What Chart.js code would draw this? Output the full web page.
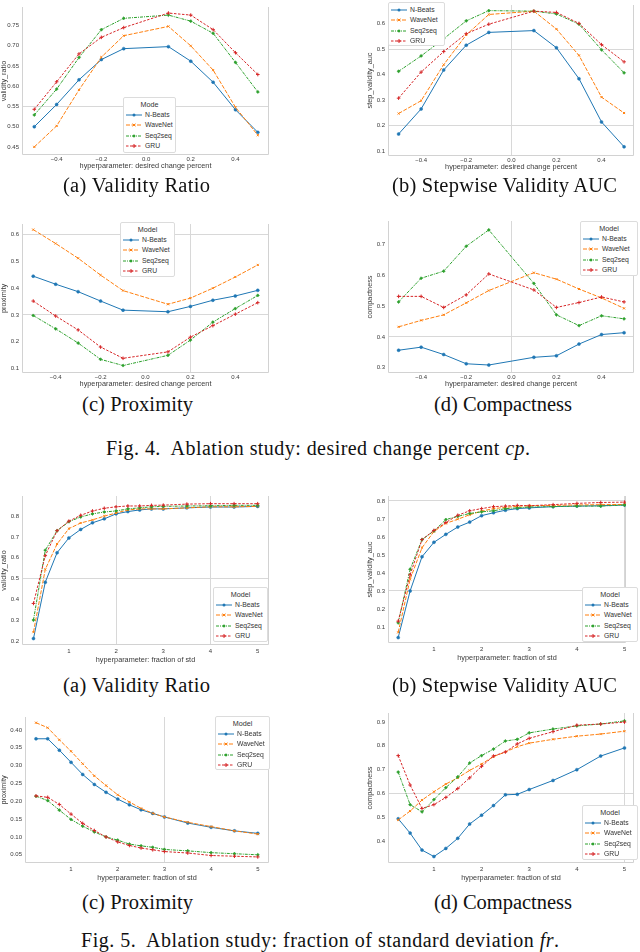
<!DOCTYPE html>
<html><head><meta charset="utf-8">
<script src="https://cdn.jsdelivr.net/npm/chart.js@4.4.1/dist/chart.umd.min.js"></script>
<style>
body{margin:0;width:640px;height:952px;background:#fff;position:relative;overflow:hidden;font-family:"Liberation Sans",Arial,sans-serif}
.wrap{position:absolute}
.cap{position:absolute;font-family:"Liberation Serif","Times New Roman",serif;font-size:20.5px;white-space:nowrap;color:#111;line-height:1}
.leg{position:absolute;background:#fff;border:1px solid #dcdcdc;border-radius:2px;font-size:6.8px;color:#333;box-sizing:border-box}
.leg .t{text-align:center;height:11px;line-height:11px;font-size:7.2px}
.leg .r{height:10.3px;line-height:10.3px;white-space:nowrap;display:flex;align-items:center}
.leg svg{margin:0 3px 0 2px;flex:none}
</style></head><body>
<script>
// ---------- data ----------
const models = ['N-Beats','WaveNet','Seq2seq','GRU'];
const cpValues = [-0.5,-0.4,-0.3,-0.2,-0.1,0.1,0.2,0.3,0.4,0.5];
const frValues = [0.25,0.5,0.75,1,1.25,1.5,1.75,2,2.25,2.5,2.75,3,3.5,4,4.5,5];
const cpTicks = [-0.4,-0.2,0,0.2,0.4];
const frTicks = [1,2,3,4,5];

// Fig 4 (a) validity ratio
const cpValidityNBeats  = [0.500,0.555,0.616,0.666,0.693,0.698,0.662,0.610,0.542,0.486];
const cpValidityWaveNet = [0.450,0.502,0.591,0.672,0.725,0.748,0.700,0.640,0.548,0.479];
const cpValiditySeq2seq = [0.529,0.593,0.671,0.740,0.768,0.776,0.761,0.731,0.659,0.586];
const cpValidityGRU     = [0.543,0.611,0.680,0.721,0.745,0.781,0.776,0.740,0.683,0.629];
const cpValidityTicks   = [0.45,0.50,0.55,0.60,0.65,0.70,0.75];
// Fig 4 (b) stepwise validity auc
const cpAucNBeats  = [0.168,0.266,0.418,0.515,0.565,0.572,0.505,0.384,0.215,0.118];
const cpAucWaveNet = [0.248,0.298,0.439,0.555,0.635,0.648,0.578,0.475,0.312,0.250];
const cpAucSeq2seq = [0.413,0.473,0.540,0.610,0.650,0.648,0.637,0.597,0.497,0.407];
const cpAucGRU     = [0.308,0.410,0.490,0.560,0.597,0.648,0.643,0.600,0.517,0.450];
const cpAucTicks   = [0.1,0.2,0.3,0.4,0.5,0.6];
// Fig 4 (c) proximity
const cpProxNBeats  = [0.445,0.415,0.387,0.352,0.318,0.312,0.332,0.355,0.371,0.392];
const cpProxWaveNet = [0.619,0.567,0.512,0.449,0.391,0.340,0.363,0.400,0.442,0.487];
const cpProxSeq2seq = [0.298,0.248,0.195,0.134,0.111,0.149,0.206,0.273,0.324,0.373];
const cpProxGRU     = [0.352,0.296,0.244,0.180,0.138,0.162,0.217,0.260,0.303,0.346];
const cpProxTicks   = [0.1,0.2,0.3,0.4,0.5,0.6];
// Fig 4 (d) compactness
const cpCompNBeats  = [0.357,0.367,0.343,0.313,0.309,0.334,0.339,0.377,0.408,0.414];
const cpCompWaveNet = [0.433,0.454,0.472,0.511,0.551,0.609,0.588,0.556,0.527,0.493];
const cpCompSeq2seq = [0.514,0.591,0.614,0.695,0.748,0.574,0.472,0.437,0.469,0.459];
const cpCompGRU     = [0.532,0.532,0.496,0.537,0.605,0.553,0.496,0.512,0.530,0.514];
const cpCompTicks   = [0.3,0.4,0.5,0.6,0.7];

// Fig 5 (a) validity ratio
const frValidityNBeats  = [0.211,0.482,0.624,0.695,0.736,0.768,0.787,0.811,0.822,0.830,0.835,0.835,0.840,0.844,0.844,0.847];
const frValidityWaveNet = [0.242,0.544,0.666,0.740,0.767,0.782,0.800,0.815,0.830,0.835,0.835,0.835,0.840,0.845,0.845,0.847];
const frValiditySeq2seq = [0.300,0.636,0.730,0.773,0.796,0.811,0.820,0.825,0.835,0.840,0.845,0.847,0.849,0.850,0.852,0.852];
const frValidityGRU     = [0.380,0.610,0.730,0.776,0.804,0.825,0.838,0.845,0.849,0.849,0.852,0.853,0.858,0.860,0.860,0.860];
const frValidityTicks   = [0.2,0.3,0.4,0.5,0.6,0.7,0.8];
// Fig 5 (b) stepwise validity auc
const frAucNBeats  = [0.041,0.300,0.490,0.570,0.614,0.655,0.682,0.718,0.734,0.748,0.757,0.761,0.768,0.771,0.773,0.777];
const frAucWaveNet = [0.070,0.365,0.540,0.630,0.675,0.698,0.723,0.743,0.757,0.764,0.770,0.773,0.775,0.777,0.779,0.780];
const frAucSeq2seq = [0.123,0.420,0.585,0.633,0.696,0.714,0.730,0.739,0.745,0.757,0.761,0.766,0.768,0.771,0.771,0.777];
const frAucGRU     = [0.132,0.390,0.585,0.636,0.680,0.720,0.745,0.757,0.768,0.771,0.775,0.773,0.779,0.786,0.791,0.793];
const frAucTicks   = [0.1,0.2,0.3,0.4,0.5,0.6,0.7,0.8];
// Fig 5 (c) proximity
const frProxNBeats  = [0.375,0.375,0.343,0.309,0.275,0.247,0.225,0.206,0.190,0.176,0.166,0.156,0.139,0.127,0.117,0.110];
const frProxWaveNet = [0.420,0.406,0.372,0.340,0.305,0.271,0.244,0.218,0.198,0.180,0.166,0.156,0.141,0.129,0.117,0.108];
const frProxSeq2seq = [0.214,0.202,0.175,0.149,0.130,0.114,0.100,0.091,0.080,0.075,0.071,0.065,0.061,0.056,0.053,0.050];
const frProxGRU     = [0.215,0.211,0.191,0.164,0.138,0.118,0.100,0.086,0.076,0.069,0.064,0.059,0.055,0.048,0.046,0.044];
const frProxTicks   = [0.05,0.10,0.15,0.20,0.25,0.30,0.35,0.40];
// Fig 5 (d) compactness
const frCompNBeats  = [0.495,0.435,0.364,0.337,0.371,0.413,0.473,0.510,0.550,0.595,0.597,0.617,0.655,0.700,0.757,0.791];
const frCompWaveNet = [0.490,0.527,0.573,0.608,0.640,0.666,0.697,0.724,0.755,0.774,0.796,0.811,0.827,0.840,0.849,0.861];
const frCompSeq2seq = [0.690,0.554,0.524,0.575,0.625,0.670,0.728,0.759,0.786,0.820,0.827,0.854,0.870,0.883,0.891,0.904];
const frCompGRU     = [0.759,0.636,0.538,0.554,0.584,0.621,0.666,0.714,0.757,0.774,0.808,0.831,0.859,0.886,0.891,0.899];
const frCompTicks   = [0.4,0.5,0.6,0.7,0.8,0.9];

// ---------- style ----------
const GRID = '#d8d8d8', SPINE = '#d2d2d2', TXT = '#3a3a3a';
const COLORS = ['#1f77b4','#ff7f0e','#2ca02c','#d62728'];
const DASHES = [[], [4,1.5], [3,1,1,1], [2.5,1.5]];
const MARKERS = ['circle','crossRot','rectRot','cross'];
const RADII = [1.5, 1.5, 1.6, 1.8];
const BW = [0.5, 1, 0.5, 1];

const spinePlugin = {
  id: 'spines',
  beforeDatasetsDraw(chart) {
    const {ctx, chartArea: a} = chart;
    ctx.save(); ctx.strokeStyle = SPINE; ctx.lineWidth = 1;
    ctx.beginPath();
    ctx.moveTo(Math.round(a.left) + 0.5, a.top);
    ctx.lineTo(Math.round(a.left) + 0.5, Math.round(a.bottom) - 0.5);
    ctx.lineTo(Math.round(a.right) - 0.5, Math.round(a.bottom) - 0.5);
    ctx.lineTo(Math.round(a.right) - 0.5, a.top);
    ctx.stroke(); ctx.restore();
  }
};

function makeChart(c) {
  const W = c.yW + (c.r - c.l) + 1;
  const H = (c.b - c.t) + c.xH + 1;
  const wrap = document.createElement('div');
  wrap.className = 'wrap';
  wrap.style.cssText = `left:${c.l - c.yW}px;top:${c.t - 1}px;width:${W}px;height:${H}px`;
  const cv = document.createElement('canvas');
  wrap.appendChild(cv); document.body.appendChild(wrap);
  new Chart(cv, {
    type: 'line',
    data: {
      datasets: c.series.map((ys, i) => ({
        label: models[i],
        data: c.xs.map((x, j) => ({x, y: ys[j]})),
        borderColor: COLORS[i], backgroundColor: COLORS[i],
        borderWidth: 1, borderDash: DASHES[i],
        pointStyle: MARKERS[i], pointRadius: RADII[i], pointBorderWidth: BW[i],
        tension: 0, order: 3 - i
      }))
    },
    options: {
      responsive: true, maintainAspectRatio: false, animation: false,
      layout: {padding: {top: 1, right: 1, left: 0, bottom: 0}},
      plugins: {legend: {display: false}, tooltip: {enabled: false}},
      scales: {
        x: {
          type: 'linear', min: c.xMin, max: c.xMax,
          afterBuildTicks: s => { s.ticks = c.xTicks.map(v => ({value: v})); },
          afterFit: s => { s.height = c.xH; s.paddingLeft = 0; s.paddingRight = 0; },
          grid: {drawTicks: false, lineWidth: 1,
                 color: ctx => (ctx.tick && c.gx.includes(ctx.tick.value)) ? GRID : 'rgba(0,0,0,0)'},
          border: {display: false},
          ticks: {font: {size: 6, family: 'Liberation Sans'}, color: TXT, padding: c.xPad, autoSkip: false, maxRotation: 0,
                  callback: v => c.xFmt(v)},
          title: {display: true, text: c.xTitle, font: {size: 7.3, family: 'Liberation Sans'}, color: TXT, padding: {top: 0, bottom: 0}}
        },
        y: {
          type: 'linear', min: c.yMin, max: c.yMax,
          afterBuildTicks: s => { s.ticks = c.yTicks.map(v => ({value: v})); },
          afterFit: s => { s.width = c.yW; s.paddingTop = 0; s.paddingBottom = 0; },
          grid: {drawTicks: false, lineWidth: 1,
                 color: ctx => (ctx.tick && c.gy.includes(ctx.tick.value)) ? GRID : 'rgba(0,0,0,0)'},
          border: {display: false},
          ticks: {font: {size: 6, family: 'Liberation Sans'}, color: TXT, padding: 3, autoSkip: false,
                  callback: v => v.toFixed(c.yDec)},
          title: {display: true, text: c.yTitle, font: {size: 7.3, family: 'Liberation Sans'}, color: TXT, padding: {top: 0, bottom: 0}}
        }
      }
    },
    plugins: [spinePlugin]
  });
}

function markerSvg(i) {
  const col = COLORS[i];
  const dash = DASHES[i].length ? `stroke-dasharray="${DASHES[i].join(',')}"` : '';
  let m = '';
  if (i === 0) m = `<circle cx="8" cy="3" r="1.5" fill="${col}"/>`;
  if (i === 1) m = `<path d="M6.6 1.6L9.4 4.4M9.4 1.6L6.6 4.4" stroke="${col}" stroke-width="1"/>`;
  if (i === 2) m = `<path d="M8 1.3L9.7 3L8 4.7L6.3 3Z" fill="${col}"/>`;
  if (i === 3) m = `<path d="M8 1V5M6 3H10" stroke="${col}" stroke-width="1"/>`;
  return `<svg width="16" height="6"><line x1="0" y1="3" x2="16" y2="3" stroke="${col}" stroke-width="1" ${dash}/>${m}</svg>`;
}

function makeLegend(g) {
  const d = document.createElement('div');
  d.className = 'leg';
  d.style.cssText = `left:${g.x}px;top:${g.y}px;width:${g.w}px;height:${g.h}px;padding-top:${g.pt || 1}px`;
  let html = g.title ? `<div class="t">${g.title}</div>` : '';
  models.forEach((m, i) => { html += `<div class="r">${markerSvg(i)}<span>${m}</span></div>`; });
  d.innerHTML = html;
  document.body.appendChild(d);
}

// caption spanning [x0, x1] horizontally, vertically centred on y
function caption(text, x0, x1, y, size) {
  const d = document.createElement('div');
  d.className = 'cap';
  d.style.fontSize = size + 'px';
  d.innerHTML = text;
  document.body.appendChild(d);
  const natural = d.getBoundingClientRect().width;
  const n = d.textContent.length;
  const ls = (x1 - x0 - natural) / Math.max(1, n - 1);
  d.style.letterSpacing = ls.toFixed(3) + 'px';
  d.style.left = x0 + 'px';
  d.style.top = (y - size / 2) + 'px';
}

const cpLabel = v => (v < 0 ? '\u2212' : '') + Math.abs(v).toFixed(1);
const frLabel = v => String(v);
const cpX = 'hyperparameter: desired change percent';
const frX = 'hyperparameter: fraction of std';

// ---------- Fig. 4 ----------
makeChart({l: 22, t: 3, r: 273, b: 155, yW: 22, xH: 15, xPad: 1, xs: cpValues,
  series: [cpValidityNBeats, cpValidityWaveNet, cpValiditySeq2seq, cpValidityGRU],
  xMin: -0.555, xMax: 0.55, yMin: 0.43, yMax: 0.796, xTicks: cpTicks, yTicks: cpValidityTicks, yDec: 2,
  gx: [], gy: [0.55], xFmt: cpLabel, xTitle: cpX, yTitle: 'validity_ratio'});
makeChart({l: 388, t: 1, r: 638, b: 156, yW: 22, xH: 15, xPad: 1, xs: cpValues,
  series: [cpAucNBeats, cpAucWaveNet, cpAucSeq2seq, cpAucGRU],
  xMin: -0.547, xMax: 0.544, yMin: 0.082, yMax: 0.672, xTicks: cpTicks, yTicks: cpAucTicks, yDec: 1,
  gx: [0], gy: [0.5, 0.2], xFmt: cpLabel, xTitle: cpX, yTitle: 'step_validity_auc'});
makeChart({l: 22, t: 220, r: 273, b: 373, yW: 22, xH: 15, xPad: 1, xs: cpValues,
  series: [cpProxNBeats, cpProxWaveNet, cpProxSeq2seq, cpProxGRU],
  xMin: -0.55, xMax: 0.55, yMin: 0.083, yMax: 0.64, xTicks: cpTicks, yTicks: cpProxTicks, yDec: 1,
  gx: [0.2], gy: [0.6, 0.3], xFmt: cpLabel, xTitle: cpX, yTitle: 'proximity'});
makeChart({l: 388, t: 217, r: 638, b: 373, yW: 22, xH: 15, xPad: 1, xs: cpValues,
  series: [cpCompNBeats, cpCompWaveNet, cpCompSeq2seq, cpCompGRU],
  xMin: -0.547, xMax: 0.544, yMin: 0.283, yMax: 0.777, xTicks: cpTicks, yTicks: cpCompTicks, yDec: 1,
  gx: [0], gy: [0.4], xFmt: cpLabel, xTitle: cpX, yTitle: 'compactness'});

// ---------- Fig. 5 ----------
makeChart({l: 22, t: 492, r: 273, b: 645, yW: 22, xH: 19, xPad: 3, xs: frValues,
  series: [frValidityNBeats, frValidityWaveNet, frValiditySeq2seq, frValidityGRU],
  xMin: 0.007, xMax: 5.24, yMin: 0.18, yMax: 0.897, xTicks: frTicks, yTicks: frValidityTicks, yDec: 1,
  gx: [2, 4], gy: [0.5], xFmt: frLabel, xTitle: frX, yTitle: 'validity_ratio'});
makeChart({l: 388, t: 492, r: 630, b: 643, yW: 22, xH: 19, xPad: 3, xs: frValues,
  series: [frAucNBeats, frAucWaveNet, frAucSeq2seq, frAucGRU],
  xMin: 0.036, xMax: 5.03, yMin: 0.011, yMax: 0.827, xTicks: frTicks, yTicks: frAucTicks, yDec: 1,
  gx: [5], gy: [0.8, 0.3], xFmt: frLabel, xTitle: frX, yTitle: 'step_validity_auc'});
makeChart({l: 25, t: 713, r: 273, b: 863, yW: 25, xH: 19, xPad: 3, xs: frValues,
  series: [frProxNBeats, frProxWaveNet, frProxSeq2seq, frProxGRU],
  xMin: 0.014, xMax: 5.24, yMin: 0.027, yMax: 0.436, xTicks: frTicks, yTicks: frProxTicks, yDec: 2,
  gx: [3], gy: [], xFmt: frLabel, xTitle: frX, yTitle: 'proximity'});
makeChart({l: 388, t: 709, r: 638, b: 863, yW: 22, xH: 19, xPad: 3, xs: frValues,
  series: [frCompNBeats, frCompWaveNet, frCompSeq2seq, frCompGRU],
  xMin: 0.036, xMax: 5.2, yMin: 0.31, yMax: 0.937, xTicks: frTicks, yTicks: frCompTicks, yDec: 1,
  gx: [5], gy: [0.6], xFmt: frLabel, xTitle: frX, yTitle: 'compactness'});

// ---------- legends ----------
makeLegend({x: 123, y: 97, w: 53, h: 56, title: 'Mode'});
makeLegend({x: 388, y: 2, w: 57, h: 44, title: '', pt: 2});
makeLegend({x: 120, y: 222, w: 55, h: 55, title: 'Model'});
makeLegend({x: 580, y: 221, w: 58, h: 55, title: 'Model'});
makeLegend({x: 213, y: 587, w: 55, h: 55, title: 'Model'});
makeLegend({x: 582, y: 587, w: 56, h: 55, title: 'Model'});
makeLegend({x: 215, y: 716, w: 55, h: 54, title: 'Model'});
makeLegend({x: 582, y: 805, w: 56, h: 55, title: 'Model'});

// ---------- captions ----------
caption('(a) Validity Ratio', 63, 210, 185, 20.5);
caption('(b) Stepwise Validity AUC', 392, 617, 185, 20.5);
caption('(c) Proximity', 82, 193, 404, 20.5);
caption('(d) Compactness', 434, 572, 404, 20.5);
caption('Fig. 4.&nbsp; Ablation study: desired change percent <i>cp</i>.', 106, 530, 448, 20);
caption('(a) Validity Ratio', 63, 210, 685, 20.5);
caption('(b) Stepwise Validity AUC', 392, 617, 685, 20.5);
caption('(c) Proximity', 82, 193, 902, 20.5);
caption('(d) Compactness', 434, 572, 902, 20.5);
caption('Fig. 5.&nbsp; Ablation study: fraction of standard deviation <i>fr</i>.', 81, 559, 940, 20);
</script>
</body></html>
